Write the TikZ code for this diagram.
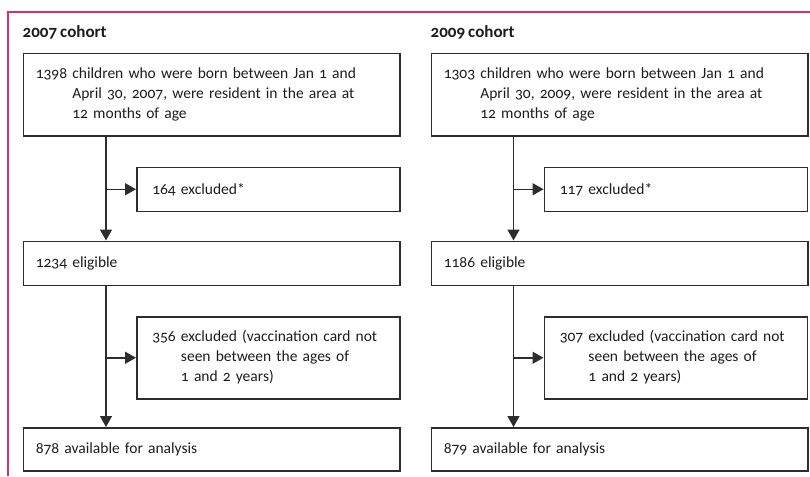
\documentclass[tikz,border=0pt]{standalone}
\usepackage{fontspec}
\setmainfont[Numbers=OldStyle, WordSpace=0.8]{Carlito}
\usepackage{xcolor}
\usetikzlibrary{arrows.meta, positioning}

\definecolor{boxline}{RGB}{45,45,45}
\definecolor{inktext}{RGB}{30,27,28}
\definecolor{framepink}{RGB}{214,50,105}

% number followed by a hanging block of lines
\newcommand{\hangnum}[2]{\begin{tabular}{@{}l@{\ }l@{}}#1 & #2\end{tabular}}

\begin{document}
\begin{tikzpicture}[
        x=1pt, y=-1pt,
        font=\fontsize{15.5}{20}\selectfont,
        % Node styles
        heading/.style={anchor=west, inner sep=0pt, text=inktext,
                        font=\fontsize{17}{20}\selectfont\bfseries},
        mainbox/.style={rectangle, draw=boxline, line width=1.5pt, text=inktext,
                        inner xsep=12.5pt, inner ysep=0pt, text width=351.5pt, align=left},
        exclbox/.style={mainbox, inner xsep=15.5pt, text width=232pt},
        arrow/.style={draw=boxline, line width=1.5pt, -{Triangle[length=11pt, width=12pt]}},
        frame/.style={draw=framepink, line width=1.3pt}
    ]
        \useasboundingbox (0,0) rectangle (810,476);

        % Page frame, top and left only
        \draw[frame] (8,476) -- (8,12) -- (810,12);

        % 2007 cohort
        \node[heading] (t07) at (22.5,32) {2007 cohort};
        \node[mainbox, minimum height=82pt, anchor=north west] (s07) at (22.5,53)
            {\hangnum{1398}{children who were born between Jan 1 and\\ & April 30, 2007, were resident in the area at\\ & 12 months of age}};
        \node[exclbox, minimum height=44pt, below=30pt of s07.south east, anchor=north east] (x07a) {164 excluded*};
        \node[mainbox, minimum height=44pt, below=104pt of s07] (e07) {1234 eligible};
        \node[exclbox, minimum height=82pt, below=30pt of e07.south east, anchor=north east] (x07b)
            {\hangnum{356}{excluded (vaccination card not\\ & seen between the ages of\\ & 1 and 2 years)}};
        \node[mainbox, minimum height=43pt, below=141pt of e07] (f07) {878 available for analysis};

        % 2009 cohort
        \node[mainbox, minimum height=82pt, right=30pt of s07] (s09)
            {\hangnum{1303}{children who were born between Jan 1 and\\ & April 30, 2009, were resident in the area at\\ & 12 months of age}};
        \node[heading] (t09) at (s09.west |- t07) {2009 cohort};
        \node[exclbox, minimum height=44pt, right=143pt of x07a] (x09a) {117 excluded*};
        \node[mainbox, minimum height=44pt, right=30pt of e07] (e09) {1186 eligible};
        \node[exclbox, minimum height=82pt, right=143pt of x07b] (x09b)
            {\hangnum{307}{excluded (vaccination card not\\ & seen between the ages of\\ & 1 and 2 years)}};
        \node[mainbox, minimum height=43pt, right=30pt of f07] (f09) {879 available for analysis};

        % Spines
        \coordinate (sp07) at ([xshift=83.5pt]s07.south west);
        \coordinate (sp09) at ([xshift=83pt]s09.south west);

        % Arrows 2007
        \draw[arrow] (sp07) -- (sp07 |- e07.north);
        \draw[arrow] (sp07 |- x07a.west) -- (x07a.west);
        \draw[arrow] (sp07 |- e07.south) -- (sp07 |- f07.north);
        \draw[arrow] (sp07 |- x07b.west) -- (x07b.west);

        % Arrows 2009
        \draw[arrow] (sp09) -- (sp09 |- e09.north);
        \draw[arrow] (sp09 |- x09a.west) -- (x09a.west);
        \draw[arrow] (sp09 |- e09.south) -- (sp09 |- f09.north);
        \draw[arrow] (sp09 |- x09b.west) -- (x09b.west);
    \end{tikzpicture}
\end{document}
